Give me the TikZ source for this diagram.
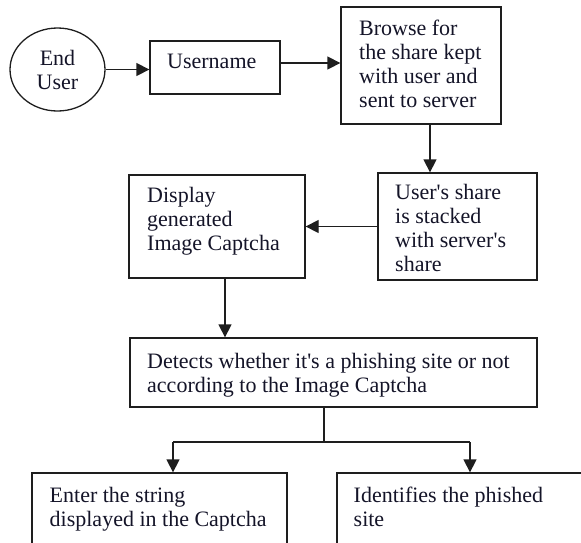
\documentclass[tikz,border=0pt]{standalone}
\usepackage{fontspec}
\setmainfont{Liberation Serif}
\usetikzlibrary{shapes.geometric,arrows.meta}
\definecolor{ink}{RGB}{20,20,40}
\definecolor{edge}{RGB}{30,30,30}
\begin{document}
\begin{tikzpicture}[x=1pt,y=-1pt,
  box/.style={draw=edge, line width=1.3pt, rectangle, inner sep=0pt},
  txt/.style={anchor=north west, inner sep=0pt, align=left, text=ink, font=\fontsize{22}{24}\selectfont},
  arr/.style={draw=edge, line width=1.3pt, -{Triangle[length=13pt,width=13pt]}},
  ln/.style={draw=edge, line width=1.3pt}]
\useasboundingbox (0,0) rectangle (581,542);

% shapes
\node[ellipse, draw=edge, line width=1.3pt, minimum width=95pt, minimum height=83pt, inner sep=0pt,
      align=center, text=ink, font=\fontsize{22}{24}\selectfont] (eu) at (57.5,69.5) {End\\User};
\node[box, minimum width=130pt, minimum height=53pt] (user) at (215,67.5) {};
\node[box, minimum width=160pt, minimum height=117pt] (browse) at (421,65.5) {};
\node[box, minimum width=159pt, minimum height=107pt] (share) at (457.5,226.5) {};
\node[box, minimum width=176pt, minimum height=103pt] (display) at (217,226.5) {};
\node[box, minimum width=407pt, minimum height=69pt] (detects) at (333.5,372.5) {};
\node[box, minimum width=255pt, minimum height=72pt] (enter) at (159.5,509) {};
\node[box, minimum width=247pt, minimum height=72pt] (ident) at (460.5,509) {};

% texts
\node[txt] (userT) at (167,54) {Username};
\node[txt] (browseT) at (359,19.5) {Browse for\\the share kept\\with user and\\sent to server};
\node[txt] (shareT) at (395,184.5) {User\textquotesingle s share\\is stacked\\with server\textquotesingle s\\share};
\node[txt] (displayT) at (147,187) {Display\\generated\\Image Captcha};
\node[txt] (detectsT) at (147,353) {Detects whether it\textquotesingle s a phishing site or not\\according to the Image Captcha};
\node[txt] (enterT) at (49.5,487) {Enter the string\\displayed in the Captcha};
\node[txt] (identT) at (353.5,487) {Identifies the phished\\site};

% connectors
\draw[arr] (eu.east) -- (eu.east -| user.west);
\draw[arr] ([yshift=4.5pt]user.east) -- ([yshift=4.5pt]user.east -| browse.west);
\draw[arr] ([xshift=9pt]browse.south) -- ([xshift=9pt]browse.south |- share.north);
\draw[arr] (share.west) -- (share.west -| display.east);
\draw[arr] ([xshift=8pt]display.south) -- ([xshift=8pt]display.south |- detects.north);

\coordinate (split) at (324,442);
\coordinate (ea) at (173,442);
\coordinate (ia) at (470,442);
\draw[ln] (split |- detects.south) -- (split);
\draw[ln] (ea) -- (ia);
\draw[arr] (ea) -- (ea |- enter.north);
\draw[arr] (ia) -- (ia |- ident.north);
\end{tikzpicture}
\end{document}
